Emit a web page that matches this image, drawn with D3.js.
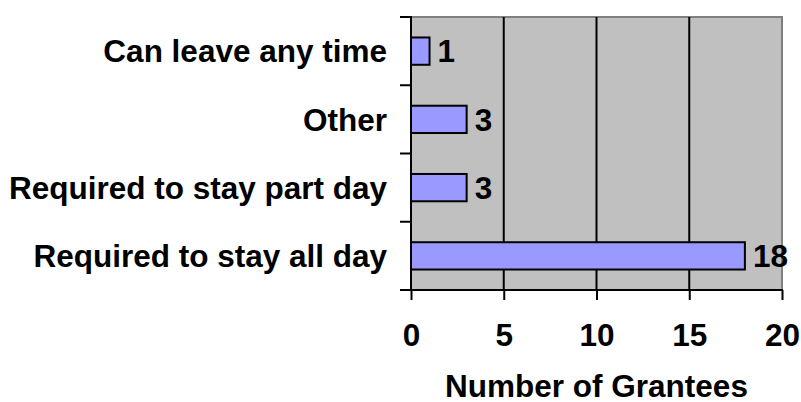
<!DOCTYPE html>
<html>
<head>
<meta charset="utf-8">
<script src="https://cdn.jsdelivr.net/npm/d3@7"></script>
<style>
  html, body { margin: 0; padding: 0; background: #ffffff; }
  svg { display: block; }
  text { font-family: Arial, "Liberation Sans", sans-serif; font-weight: bold; fill: #000; }
</style>
</head>
<body>
<svg id="chart" width="801" height="402"></svg>
<script>
// Attendance requirement categories, listed top to bottom
const categories = [
  "Can leave any time",
  "Other",
  "Required to stay part day",
  "Required to stay all day"
];
// Number of grantees in each category
const grantees = [1, 3, 3, 18];
// Horizontal axis ticks
const xTicks = [0, 5, 10, 15, 20];
const xTitle = "Number of Grantees";

const W = 801, H = 402;
const margin = { top: 17, right: 19, bottom: 112, left: 411 };
const iw = W - margin.left - margin.right;
const ih = H - margin.top - margin.bottom;
const FS = 31.5;

const svg = d3.select("#chart");
const g = svg.append("g").attr("transform", `translate(${margin.left},${margin.top})`);

const x = d3.scaleLinear().domain([0, 20]).range([0, iw]);
const y = d3.scaleBand().domain(categories).range([0, ih])
  .paddingInner(0.6).paddingOuter(0.3);

// Plot background
g.append("rect")
  .attr("x", 0).attr("y", 0).attr("width", iw).attr("height", ih)
  .attr("fill", "#C0C0C0");

// Top and right plot border
g.append("path")
  .attr("d", `M0,0H${iw}V${ih}`)
  .attr("fill", "none").attr("stroke", "#808080").attr("stroke-width", 2);

// Vertical gridlines
g.selectAll("line.grid")
  .data(xTicks.filter(t => t > 0 && t < 20))
  .join("line")
  .attr("class", "grid")
  .attr("x1", d => x(d)).attr("x2", d => x(d))
  .attr("y1", 0).attr("y2", ih)
  .attr("stroke", "#000").attr("stroke-width", 2);

// Bars
g.selectAll("rect.bar")
  .data(categories)
  .join("rect")
  .attr("class", "bar")
  .attr("x", 0)
  .attr("y", d => y(d))
  .attr("width", (d, i) => x(grantees[i]))
  .attr("height", y.bandwidth())
  .attr("fill", "#9999FF")
  .attr("stroke", "#000").attr("stroke-width", 2);

// Value labels
g.selectAll("text.val")
  .data(categories)
  .join("text")
  .attr("class", "val")
  .attr("x", (d, i) => x(grantees[i]) + 8)
  .attr("y", d => y(d) + y.bandwidth() / 2)
  .attr("dy", "0.36em")
  .attr("font-size", FS)
  .text((d, i) => grantees[i]);

// Category axis: ticks on band boundaries, labels at band centres
const step = y.step();
const bounds = d3.range(categories.length + 1).map(i => i * step);
g.selectAll("line.ytick")
  .data(bounds)
  .join("line")
  .attr("class", "ytick")
  .attr("x1", -11).attr("x2", 0)
  .attr("y1", d => d).attr("y2", d => d)
  .attr("stroke", "#000").attr("stroke-width", 2);

g.append("line")
  .attr("x1", 0).attr("x2", 0).attr("y1", -1).attr("y2", ih + 1)
  .attr("stroke", "#000").attr("stroke-width", 2);

g.selectAll("text.cat")
  .data(categories)
  .join("text")
  .attr("class", "cat")
  .attr("x", -24)
  .attr("y", d => y(d) + y.bandwidth() / 2)
  .attr("dy", "0.36em")
  .attr("text-anchor", "end")
  .attr("font-size", FS)
  .text(d => d);

// Value axis along the bottom
const xAxis = d3.axisBottom(x).tickValues(xTicks).tickSize(10).tickPadding(24);
const ax = g.append("g").attr("transform", `translate(0,${ih})`).call(xAxis);
ax.select(".domain").attr("stroke", "#000").attr("stroke-width", 2)
  .attr("d", `M-11,0H${iw + 1}`);
ax.selectAll(".tick line").attr("stroke", "#000").attr("stroke-width", 2);
ax.selectAll(".tick text")
  .attr("font-size", FS)
  .attr("font-family", "Arial, 'Liberation Sans', sans-serif")
  .attr("font-weight", "bold")
  .attr("fill", "#000");

// Axis title
g.append("text")
  .attr("x", iw / 2)
  .attr("y", ih + 107)
  .attr("text-anchor", "middle")
  .attr("font-size", FS)
  .text(xTitle);
</script>
</body>
</html>
